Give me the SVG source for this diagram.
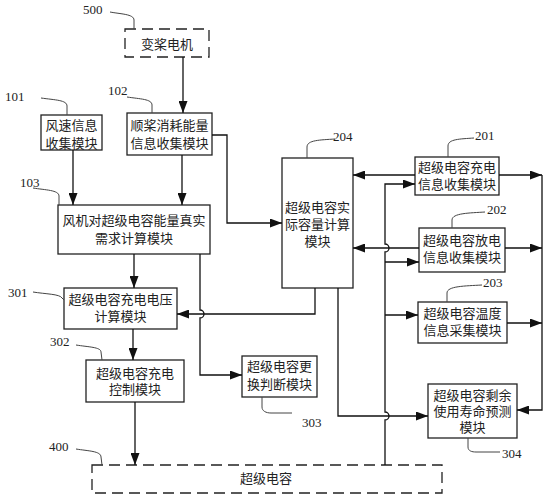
<svg xmlns="http://www.w3.org/2000/svg" width="548" height="500" viewBox="0 0 548 500">
<defs>
<marker id="arr" markerUnits="userSpaceOnUse" markerWidth="13" markerHeight="9" refX="12" refY="4.5" orient="auto">
<path d="M0,0 L12,4.5 L0,9 z" fill="#111"/>
</marker>
<style>
.box{fill:#fff;stroke:#222;stroke-width:1.3}
.dash{fill:none;stroke:#222;stroke-width:1.3;stroke-dasharray:11,6}
.t{font-family:"Liberation Serif","Noto Sans CJK SC",serif;font-size:13px;fill:#222;text-anchor:middle}
.n{font-family:"Liberation Serif",serif;font-size:13px;fill:#222}
.ld{fill:none;stroke:#444;stroke-width:1}
.c{fill:none;stroke:#111;stroke-width:1.3}
.ca{fill:none;stroke:#111;stroke-width:1.3;marker-end:url(#arr)}
</style>
</defs>
<rect width="548" height="500" fill="#fff"/>

<g id="n500">
<rect class="dash" x="125" y="29" width="84" height="28"/>
<text class="t" x="167" y="49">变桨电机</text>
<path class="ld" d="M110,12 C120,14 134,14 134,20 L134,29"/>
<text class="n" x="83" y="14">500</text>
</g>

<g id="n101">
<rect class="box" x="41" y="115" width="61" height="35"/>
<text class="t" x="71.5" y="130">风速信息</text>
<text class="t" x="71.5" y="148">收集模块</text>
<path class="ld" d="M41,98 C55,100 67,100 67,106 L67,115"/>
<text class="n" x="5" y="101">101</text>
</g>

<g id="n102">
<rect class="box" x="127" y="113" width="85" height="42"/>
<text class="t" x="169.5" y="130">顺桨消耗能量</text>
<text class="t" x="169.5" y="148">信息收集模块</text>
<path class="ld" d="M127,97 C140,99 152,99 152,105 L152,113"/>
<text class="n" x="108" y="95">102</text>
</g>

<g id="n103">
<rect class="box" x="58" y="205" width="152" height="49"/>
<text class="t" x="134" y="225">风机对超级电容能量真实</text>
<text class="t" x="134" y="243">需求计算模块</text>
<path class="ld" d="M33,188 C45,190 59,190 59,196 L59,205"/>
<text class="n" x="20" y="187">103</text>
</g>

<g id="n204">
<rect class="box" x="282" y="158" width="71" height="130"/>
<text class="t" x="317.5" y="212">超级电容实</text>
<text class="t" x="317.5" y="229">际容量计算</text>
<text class="t" x="317.5" y="246">模块</text>
<path class="ld" d="M335,139 C320,140 307,140 307,147 L307,158"/>
<text class="n" x="333" y="141">204</text>
</g>

<g id="n201">
<rect class="box" x="415" y="157" width="84" height="38"/>
<text class="t" x="457" y="172">超级电容充电</text>
<text class="t" x="457" y="189">信息收集模块</text>
<path class="ld" d="M474,138 C460,139 448,139 448,146 L448,157"/>
<text class="n" x="475" y="140">201</text>
</g>

<g id="n202">
<rect class="box" x="419" y="228" width="86" height="44"/>
<text class="t" x="462" y="245">超级电容放电</text>
<text class="t" x="462" y="262">信息收集模块</text>
<path class="ld" d="M485,212 C470,213 452,213 452,220 L452,228"/>
<text class="n" x="487" y="214">202</text>
</g>

<g id="n203">
<rect class="box" x="418" y="302" width="89" height="41"/>
<text class="t" x="462.5" y="318">超级电容温度</text>
<text class="t" x="462.5" y="335">信息采集模块</text>
<path class="ld" d="M482,285 C465,286 447,286 447,293 L447,302"/>
<text class="n" x="483" y="287">203</text>
</g>

<g id="n304">
<rect class="box" x="428" y="384" width="89" height="54"/>
<text class="t" x="472.5" y="400">超级电容剩余</text>
<text class="t" x="472.5" y="416">使用寿命预测</text>
<text class="t" x="472.5" y="432">模块</text>
<path class="ld" d="M468,438 L468,447 C468,451 472,452 476,452 L500,452"/>
<text class="n" x="502" y="458">304</text>
</g>

<g id="n301">
<rect class="box" x="64" y="288" width="113" height="41"/>
<text class="t" x="120.5" y="304">超级电容充电电压</text>
<text class="t" x="120.5" y="321">计算模块</text>
<path class="ld" d="M33,292 C45,294 60,294 62,298 L64,300"/>
<text class="n" x="8" y="297">301</text>
</g>

<g id="n302">
<rect class="box" x="86" y="360" width="98" height="42"/>
<text class="t" x="135" y="378">超级电容充电</text>
<text class="t" x="135" y="394">控制模块</text>
<path class="ld" d="M76,345 C88,347 101,347 101,352 L102,360"/>
<text class="n" x="50" y="346">302</text>
</g>

<g id="n303">
<rect class="box" x="242" y="356" width="75" height="41"/>
<text class="t" x="279.5" y="371">超级电容更</text>
<text class="t" x="279.5" y="389">换判断模块</text>
<path class="ld" d="M262,397 L262,407 C262,411 266,413 271,413 L292,413"/>
<text class="n" x="302" y="427">303</text>
</g>

<g id="n400">
<rect class="dash" x="92" y="465" width="350" height="28"/>
<text class="t" x="266" y="483">超级电容</text>
<path class="ld" d="M76,449 C88,451 101,451 101,457 L102,465"/>
<text class="n" x="49" y="451">400</text>
</g>

<g id="connectors">
<path class="ca" d="M183,57 L183,113"/>
<path class="ca" d="M73,150 L73,205"/>
<path class="ca" d="M182,155 L182,205"/>
<path class="ca" d="M212,135 L227,135 L227,223 L282,223"/>
<path class="ca" d="M134,254 L134,288"/>
<path class="ca" d="M200,254 L200,310 A4,4 0 0 1 200,318 L200,375 L242,375"/>
<path class="ca" d="M315,288 L315,314 L177,314"/>
<path class="ca" d="M133,329 L133,360"/>
<path class="ca" d="M135,402 L135,465"/>
<path class="ca" d="M338,288 L338,416 L428,416"/>
<path class="ca" d="M415,175 L353,175"/>
<path class="ca" d="M419,248 L353,248"/>
<path class="ca" d="M385,465 L385,420 A4,4 0 0 0 385,412 L385,252 A4,4 0 0 0 385,244 L385,184 L415,184"/>
<path class="ca" d="M385,262 L419,262"/>
<path class="ca" d="M385,315 L418,315"/>
<path class="ca" d="M499,175 L542,175"/>
<path class="ca" d="M505,248 L542,248"/>
<path class="ca" d="M507,323 L542,323"/>
<path class="ca" d="M542,175 L542,410 L517,410"/>
</g>
</svg>
